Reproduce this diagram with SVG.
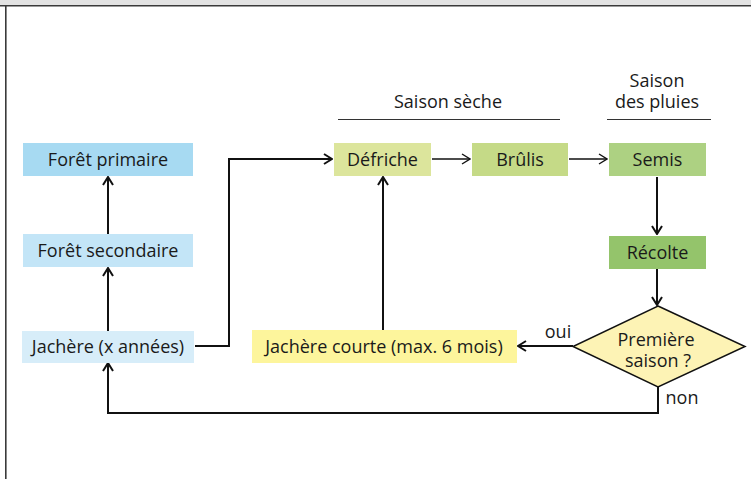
<svg xmlns="http://www.w3.org/2000/svg" width="751" height="479" viewBox="0 0 751 479">
<style>
text{font-family:"Open Sans","Noto Sans","DejaVu Sans",sans-serif;font-size:18px;fill:#1a1a1a;text-anchor:middle}
.c{fill:none;stroke:#111;stroke-width:2}
.t{fill:none;stroke:#111;stroke-width:1.3}
.sep{stroke:#333;stroke-width:1.2}
</style>
<defs>
<marker id="ah" viewBox="0 0 10 12" refX="9" refY="6" markerWidth="10" markerHeight="12" markerUnits="userSpaceOnUse" orient="auto">
<path d="M1,1 L9,6 L1,11" fill="none" stroke="#111" stroke-width="2"/>
</marker>
<marker id="ahs" viewBox="0 0 10 12" refX="9" refY="6" markerWidth="10" markerHeight="12" markerUnits="userSpaceOnUse" orient="auto">
<path d="M1,1 L9,6 L1,11" fill="none" stroke="#111" stroke-width="1.4"/>
</marker>
</defs>
<rect x="0" y="0" width="751" height="479" fill="#ffffff"/>
<rect x="0" y="0" width="751" height="5" fill="#e3e3e3"/>
<line x1="0" y1="5.8" x2="751" y2="5.8" stroke="#3a3a3a" stroke-width="1.6"/>
<line x1="5.8" y1="5" x2="5.8" y2="479" stroke="#3a3a3a" stroke-width="1.6"/>

<g id="season-labels">
<text x="448" y="108">Saison sèche</text>
<line class="sep" x1="338" y1="119.5" x2="560" y2="119.5"/>
<text x="657" y="87">Saison</text>
<text x="657" y="108">des pluies</text>
<line class="sep" x1="607" y1="119.5" x2="711" y2="119.5"/>
</g>

<g id="connectors">
<path class="c" d="M108,331 V268" marker-end="url(#ah)"/>
<path class="c" d="M108,234 V177" marker-end="url(#ah)"/>
<path class="c" d="M195,346 H229 V159 H332" marker-end="url(#ah)"/>
<path class="t" d="M432,159 H470" marker-end="url(#ahs)"/>
<path class="t" d="M569,159 H607" marker-end="url(#ahs)"/>
<path class="c" d="M657,177 V234" marker-end="url(#ah)"/>
<path class="c" d="M657,269 V305" marker-end="url(#ah)"/>
<path class="c" d="M573,346 H518" marker-end="url(#ah)"/>
<path class="c" d="M383,330 V177" marker-end="url(#ah)"/>
<path class="c" d="M658,387 V413 H108 V363" marker-end="url(#ah)"/>
<text x="558" y="338">oui</text>
<text x="682" y="404">non</text>
</g>

<g id="foret-primaire">
<rect x="23" y="143" width="170" height="33" fill="#a7daf2"/>
<text x="108" y="166">Forêt primaire</text>
</g>
<g id="foret-secondaire">
<rect x="23" y="234" width="170" height="33" fill="#c3e5f7"/>
<text x="108" y="257">Forêt secondaire</text>
</g>
<g id="jachere">
<rect x="22" y="331" width="172" height="32" fill="#d7edf9"/>
<text x="108" y="353">Jachère (x années)</text>
</g>
<g id="defriche">
<rect x="334" y="143" width="97" height="33" fill="#dce59c"/>
<text x="382.5" y="166">Défriche</text>
</g>
<g id="brulis">
<rect x="472" y="143" width="96" height="33" fill="#c5da87"/>
<text x="520" y="166">Brûlis</text>
</g>
<g id="semis">
<rect x="609" y="143" width="97" height="33" fill="#add182"/>
<text x="657.5" y="166">Semis</text>
</g>
<g id="recolte">
<rect x="609" y="236" width="97" height="33" fill="#94c46b"/>
<text x="657.5" y="259">Récolte</text>
</g>
<g id="jachere-courte">
<rect x="252" y="330" width="265" height="33" fill="#fdf59c"/>
<text x="384" y="353">Jachère courte (max. 6 mois)</text>
</g>
<g id="premiere-saison">
<polygon points="658,306 745,346.5 658,387 573,346.5" fill="#fdf3b5" stroke="#111" stroke-width="1.5"/>
<text x="656" y="346">Première</text>
<text x="658" y="367">saison ?</text>
</g>
</svg>
